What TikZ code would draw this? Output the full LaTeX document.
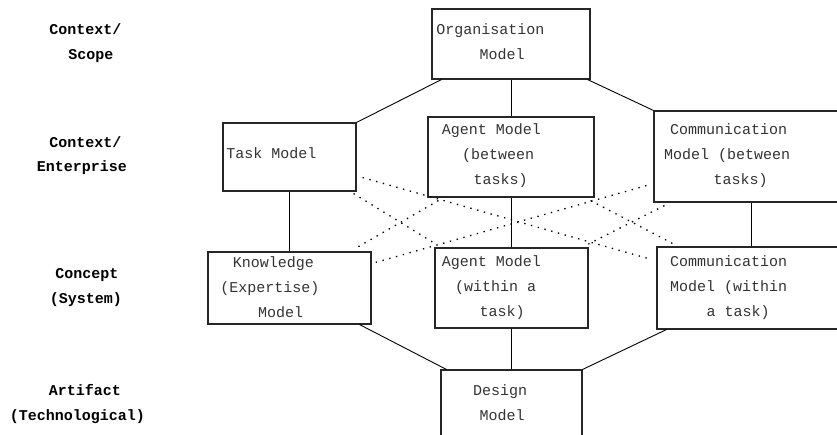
\documentclass[tikz,border=0pt]{standalone}
\usepackage{fontspec}
\newfontfamily\monofam{Liberation Mono}
\newcommand{\boxfont}{\monofam\fontsize{15}{18}\selectfont}
\newcommand{\labfont}{\monofam\bfseries\fontsize{15}{18}\selectfont}
\begin{document}
\begin{tikzpicture}[x=1pt,y=-1pt,
  box/.style={draw=black!85, line width=1.1pt, inner sep=0pt, fill=none},
  txt/.style={font=\boxfont, text=black!80, anchor=base, inner sep=0pt},
  lab/.style={font=\labfont, text=black, anchor=base, inner sep=0pt},
  conn/.style={draw=black, line width=0.9pt},
  dots/.style={draw=black, line width=1.3pt, dash pattern=on 1.4pt off 5.6pt}]
\path[use as bounding box] (0,0) rectangle (837,434);
\clip (0,0) rectangle (837,434);
% boxes
\node[box, minimum width=158pt, minimum height=70pt] (org) at (511,44) {};
\node[box, minimum width=133pt, minimum height=68pt] (task) at (289.5,157) {};
\node[box, minimum width=166pt, minimum height=80pt] (agentB) at (511,157) {};
\node[box, minimum width=194pt, minimum height=91pt] (commB) at (751,156.5) {};
\node[box, minimum width=163pt, minimum height=72pt] (know) at (289.5,288) {};
\node[box, minimum width=153pt, minimum height=80pt] (agentW) at (511.5,288) {};
\node[box, minimum width=188pt, minimum height=82pt] (commW) at (751,288) {};
\node[box, minimum width=141pt, minimum height=90pt] (design) at (511.5,415) {};
% left labels
\node[lab] (l1a) at (85.5,34.5) {Context/};
\node[lab] (l1b) at (91,59.5) {Scope};
\node[lab] (l2a) at (85.5,147.5) {Context/};
\node[lab] (l2b) at (82,171.5) {Enterprise};
\node[lab] (l3a) at (87,278.5) {Concept};
\node[lab] (l3b) at (86,303.5) {(System)};
\node[lab] (l4a) at (85,395.5) {Artifact};
\node[lab] (l4b) at (77.5,420.5) {(Technological)};
% box texts
\node[txt] (to1) at (490.5,34.5) {Organisation};
\node[txt] (to2) at (502,59.5) {Model};
\node[txt] (tt1) at (271.5,158.5) {Task Model};
\node[txt] (tab1) at (491.5,134.5) {Agent Model};
\node[txt] (tab2) at (498,159.5) {(between};
\node[txt] (tab3) at (500.5,184.5) {tasks)};
\node[txt] (tcb1) at (728.5,134.5) {Communication};
\node[txt] (tcb2) at (727,159.5) {Model (between};
\node[txt] (tcb3) at (740.5,184.5) {tasks)};
\node[txt] (tk1) at (273.5,267.5) {Knowledge};
\node[txt] (tk2) at (270,292.5) {(Expertise)};
\node[txt] (tk3) at (280.5,317.5) {Model};
\node[txt] (taw1) at (491.5,266.5) {Agent Model};
\node[txt] (taw2) at (495.5,291.5) {(within a};
\node[txt] (taw3) at (502,316.5) {task)};
\node[txt] (tcw1) at (728.5,266.5) {Communication};
\node[txt] (tcw2) at (728.5,291.5) {Model (within};
\node[txt] (tcw3) at (738,316.5) {a task)};
\node[txt] (td1) at (500,395.5) {Design};
\node[txt] (td2) at (502,420.5) {Model};
% solid connectors
\draw[conn] ([xshift=10pt]org.south west) -- (task.north east);
\draw[conn] (org.south) -- (org.south |- agentB.north);
\draw[conn] ([xshift=-3pt]org.south east) -- (commB.north west);
\draw[conn] (task.south) -- (task.south |- know.north);
\draw[conn] (agentB.south) -- (agentB.south |- agentW.north);
\draw[conn] (commB.south) -- (commB.south |- commW.north);
\draw[conn] ([xshift=-12pt]know.south east) -- ([xshift=6pt]design.north west);
\draw[conn] (agentW.south) -- (agentW.south |- design.north);
\draw[conn] ([xshift=10pt]commW.south west) -- (design.north east);
% dotted connectors
\draw[dots] ([shift={(6pt,14pt)}]task.south east) -- ([shift={(-5pt,-13pt)}]commW.north west);
\draw[dots] ([shift={(-3pt,-2pt)}]task.south east) -- ([shift={(2pt,3pt)}]agentW.north west);
\draw[dots] ([shift={(11pt,-3pt)}]agentB.south west) -- ([shift={(-18pt,2pt)}]know.north east);
\draw[dots] ([shift={(-7pt,17pt)}]commB.south west) -- ([shift={(4pt,-11pt)}]know.north east);
\draw[dots] ([shift={(-4pt,-3pt)}]agentB.south east) -- ([shift={(18pt,2pt)}]commW.north west);
\draw[dots] ([shift={(11pt,-3pt)}]commB.south west) -- ([shift={(-1pt,3pt)}]agentW.north east);
\end{tikzpicture}
\end{document}
